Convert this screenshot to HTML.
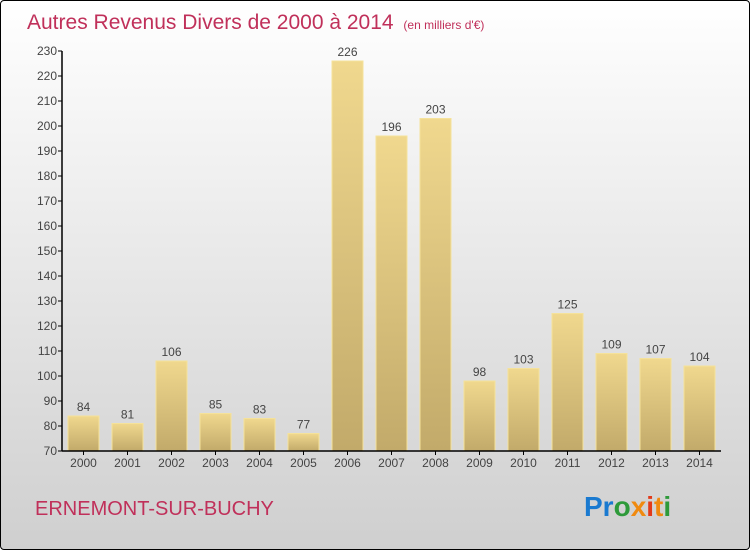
<!DOCTYPE html>
<html><head><meta charset="utf-8"><style>
body{margin:0;}
#c{position:relative;width:748px;height:548px;border:1px solid #000;border-radius:4px;background:linear-gradient(#ffffff,#cfcfcf);overflow:hidden;font-family:"Liberation Sans",sans-serif;}
</style></head><body>
<div id="c">
<svg id="s" width="748" height="548">
<defs>
<linearGradient id="bg" x1="0" y1="0" x2="0" y2="1"><stop offset="0" stop-color="#f0d88e"/><stop offset="1" stop-color="#c2aa6a"/></linearGradient>
</defs>
<text x="26" y="28" font-size="21" fill="#c0305a">Autres Revenus Divers de 2000 à 2014 <tspan font-size="12" dx="4">(en milliers d'€)</tspan></text>
<g id="plot"></g>
<text x="34" y="514" font-size="20" fill="#c0305a">ERNEMONT-SUR-BUCHY</text>
<text x="583" y="515" font-size="28" font-weight="bold"><tspan fill="#1a7ad0">Pr</tspan><tspan fill="#2e9a3a">o</tspan><tspan fill="#f08a10">x</tspan><tspan fill="#e23a1a">i</tspan><tspan fill="#f08a10">t</tspan><tspan fill="#2e9a3a">i</tspan></text>
</svg>
</div>
<script>
const categories=["2000","2001","2002","2003","2004","2005","2006","2007","2008","2009","2010","2011","2012","2013","2014"];
const values=[84,81,106,85,83,77,226,196,203,98,103,125,109,107,104];
const yTicks=[70,80,90,100,110,120,130,140,150,160,170,180,190,200,210,220,230];
const NS="http://www.w3.org/2000/svg";
const g=document.getElementById('plot');
const y0=450,yMin=70,yMax=230,yTop=50,xAxis=61;
const y=v=>y0-(v-yMin)*(y0-yTop)/(yMax-yMin);
const x=i=>82+i*44;
function mk(t,a){const e=document.createElementNS(NS,t);for(const k in a)e.setAttribute(k,a[k]);g.appendChild(e);return e;}
yTicks.forEach(t=>{
 const l=mk('line',{x1:xAxis-4,x2:xAxis,y1:y(t),y2:y(t),stroke:'#000'});
 
 
 const tx=mk('text',{x:xAxis-5,y:y(t)+4,'font-size':12,fill:'#444','text-anchor':'end'});
 tx.textContent=t;
 
 
});
categories.forEach((c,i)=>{
 const v=values[i];
 const r=mk('rect',{x:x(i)-15,y:y(v),width:31,height:y0-y(v),fill:'url(#bg)',stroke:'#f5e29a','stroke-width':1});
 
 
 const vl=mk('text',{x:x(i)+0.5,y:y(v)-5,'font-size':12,fill:'#444','text-anchor':'middle'});
 vl.textContent=v;
 
 
 const xl=mk('text',{x:x(i)+0.5,y:466,'font-size':12,fill:'#444','text-anchor':'middle'});
 xl.textContent=c;
 
 
 const tk=mk('line',{x1:x(i)+0.5,x2:x(i)+0.5,y1:y0,y2:y0+4,stroke:'#000'});
 
 
});
const ya=mk('line',{x1:xAxis,x2:xAxis,y1:yTop,y2:y0,stroke:'#000','stroke-width':1.5});


const xa=mk('line',{x1:xAxis,x2:720,y1:y0,y2:y0,stroke:'#000','stroke-width':1.5});


</script>
</body></html>
